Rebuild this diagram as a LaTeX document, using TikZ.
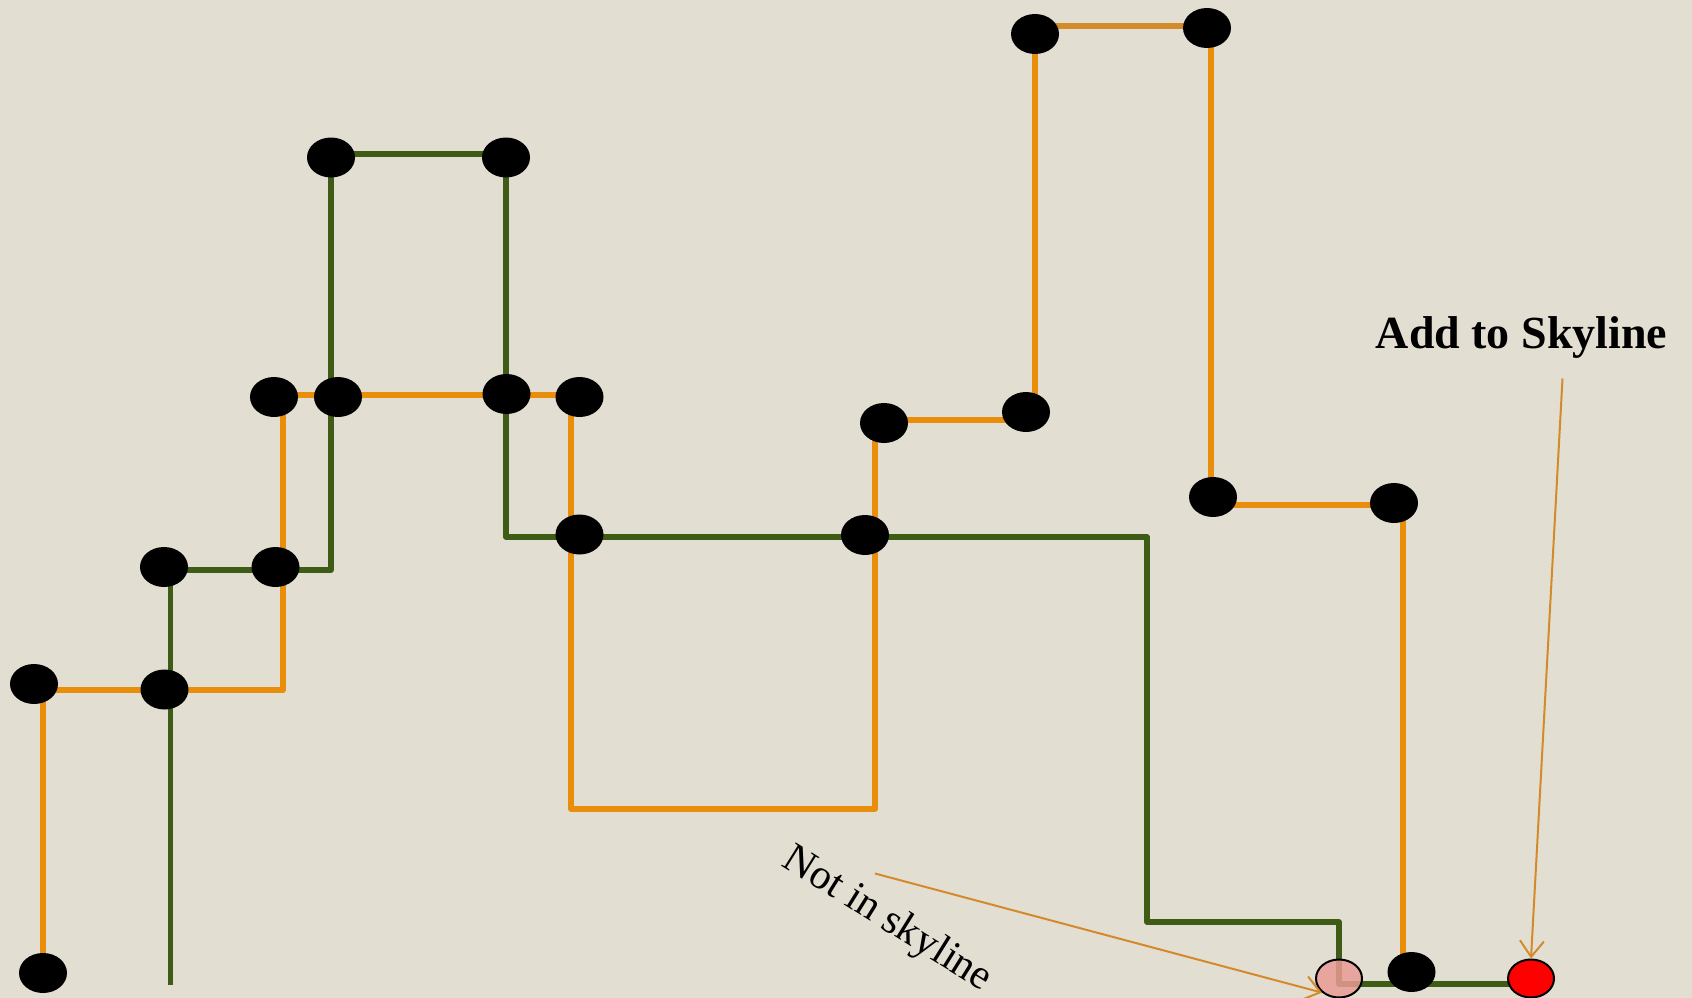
\documentclass[tikz,border=0pt]{standalone}
\usepackage{fontspec}
\setmainfont{Liberation Serif}
\usepackage{tikz}
\definecolor{bg}{RGB}{227, 222, 210}
\definecolor{og}{RGB}{232, 142, 10}
\definecolor{ogtop}{RGB}{212, 140, 42}
\definecolor{gr}{RGB}{63, 92, 23}
\definecolor{pk}{RGB}{233, 156, 148}
\definecolor{ar}{RGB}{212, 138, 42}
\usetikzlibrary{positioning}
\usetikzlibrary{shapes.geometric}
\usetikzlibrary{arrows.meta}

\begin{document}
\begin{tikzpicture}[
  dot/.style={ellipse, minimum width=48pt, minimum height=40pt, inner sep=0pt, fill=black},
  olive/.style={line width=5.5pt, color=gr, line join=round},
  amber/.style={line width=5.5pt, color=og, line join=round},
  pointer/.style={line width=2pt, color=ar, -{Straight Barb[length=16pt, width=24pt, line width=2pt]}}]
\fill [bg] (0pt, 0pt) rectangle (1692pt, -998pt);
\useasboundingbox (0pt, 0pt) rectangle (1692pt, -998pt);
% corners of the two outlines
\coordinate (o1) at (43pt, -973pt);
\coordinate (o2) at (43pt, -690pt);
\coordinate (o3) at (283pt, -690pt);
\coordinate (o4) at (283pt, -395pt);
\coordinate (o5) at (571pt, -395pt);
\coordinate (o6) at (571pt, -809pt);
\coordinate (o7) at (875pt, -809pt);
\coordinate (o8) at (875pt, -420pt);
\coordinate (o9) at (1035pt, -420pt);
\coordinate (o10) at (1035pt, -26pt);
\coordinate (o11) at (1211pt, -26pt);
\coordinate (o12) at (1211pt, -505pt);
\coordinate (o13) at (1403pt, -505pt);
\coordinate (o14) at (1403pt, -972pt);
\coordinate (g1) at (170.5pt, -985pt);
\coordinate (g2) at (170.5pt, -570pt);
\coordinate (g3) at (331pt, -570pt);
\coordinate (g4) at (331pt, -154pt);
\coordinate (g5) at (506pt, -154pt);
\coordinate (g6) at (506pt, -537pt);
\coordinate (g7) at (1147pt, -537pt);
\coordinate (g8) at (1147pt, -922pt);
\coordinate (g9) at (1339pt, -922pt);
\coordinate (g10) at (1339pt, -984pt);
\coordinate (g11) at (1520pt, -984pt);
\draw [amber] (o1) -- (o2) -- (o3) -- (o4) -- (o5) -- (o6) -- (o7) -- (o8) -- (o9) -- (o10);
\draw [line width=5.5pt, color=ogtop] (o10) -- (o11);
\draw [amber] (o11) -- (o12) -- (o13) -- (o14);
\draw [olive] (g1) -- (g2) -- (g3) -- (g4) -- (g5) -- (g6) -- (g7) -- (g8) -- (g9) -- (g10) -- (g11);
% points
\node (1) [dot] at (34pt, -684pt) {};
\node (2) [dot] at (164.5pt, -689.5pt) {};
\node (3) [dot] at (164pt, -567pt) {};
\node (4) [dot] at (275.5pt, -567pt) {};
\node (5) [dot] at (274pt, -397pt) {};
\node (6) [dot] at (338pt, -397pt) {};
\node (7) [dot] at (331pt, -157.5pt) {};
\node (8) [dot] at (506pt, -157.5pt) {};
\node (9) [dot] at (506.5pt, -394pt) {};
\node (10) [dot] at (579.5pt, -397pt) {};
\node (11) [dot] at (579.5pt, -534.5pt) {};
\node (12) [dot] at (865pt, -535pt) {};
\node (13) [dot] at (884pt, -423pt) {};
\node (14) [dot] at (1026pt, -412pt) {};
\node (15) [dot] at (1035pt, -34pt) {};
\node (16) [dot] at (1207pt, -28pt) {};
\node (17) [dot] at (1213pt, -497pt) {};
\node (18) [dot] at (1394pt, -503pt) {};
\node (19) [dot] at (43pt, -973pt) {};
\node (20) [dot] at (1411.5pt, -972pt) {};
\node (21) [ellipse, minimum width=46pt, minimum height=38pt, inner sep=0pt, fill=pk, fill opacity=0.85, draw=black, line width=2pt] at (1339pt, -978.5pt) {};
\node (22) [ellipse, minimum width=46pt, minimum height=38pt, inner sep=0pt, fill=red, draw=black, line width=2pt] at (1531pt, -978.5pt) {};
% labels
\node (add) [anchor=base, inner sep=0pt, font=\fontsize{46pt}{50pt}\selectfont\bfseries] at (1521.5pt, -348pt) {Add to Skyline};
\node (not) [inner sep=0pt, rotate=-32, font=\fontsize{42pt}{46pt}\selectfont] at (887pt, -920pt) {Not in skyline};
\coordinate (p1) at (1562.5pt, -378.5pt);
\coordinate (p2) at (875pt, -873.5pt);
\draw [pointer] (p1) -- (22.north);
\draw [pointer] (p2) -- (21.south west);
\end{tikzpicture}
\end{document}
